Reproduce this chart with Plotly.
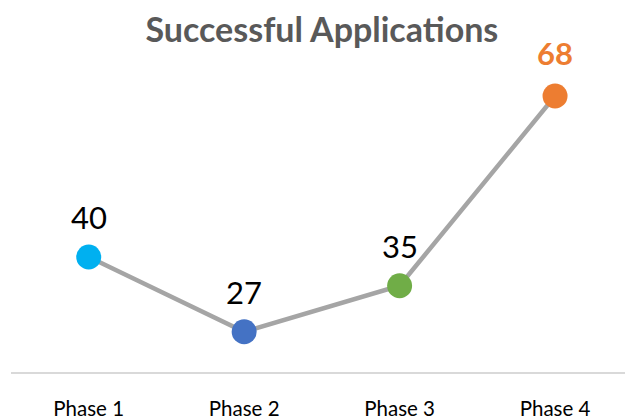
import plotly.graph_objects as go

categories = ["Phase 1", "Phase 2", "Phase 3", "Phase 4"]
values = [40, 27, 35, 68]
marker_colors = ["#00B0F0", "#4472C4", "#70AD47", "#ED7D31"]
label_colors = ["#000000", "#000000", "#000000", "#ED7D31"]
label_bold = [False, False, False, True]

FONT = "Lato"

fig = go.Figure()
fig.add_trace(go.Scatter(
    x=categories, y=values, mode="lines+markers",
    line=dict(color="#A5A5A5", width=4.5),
    marker=dict(size=25, color=marker_colors, line=dict(width=0)),
    hoverinfo="skip", showlegend=False,
))

for c, v, col, b in zip(categories, values, label_colors, label_bold):
    fig.add_annotation(
        x=c, y=v, text=f"<b>{v}</b>" if b else str(v), showarrow=False,
        yshift=43 if b else 40, font=dict(family=FONT, size=31, color=col),
    )

fig.update_layout(
    width=625, height=419,
    margin=dict(l=11, r=0, t=27, b=47, autoexpand=False),
    paper_bgcolor="white", plot_bgcolor="white",
    title=dict(text="<b>Successful Applications</b>", x=0.515, xanchor="center",
               y=0.928, yanchor="middle",
               font=dict(family=FONT, size=34, color="#595959")),
    xaxis=dict(type="category", range=[-0.5, 3.45], showgrid=False, zeroline=False,
               automargin=False,
               showline=True, linecolor="#D9D9D9", linewidth=1.5, ticks="",
               tickfont=dict(family=FONT, size=20.5, color="#000000"), ticklabelstandoff=18),
    yaxis=dict(range=[20, 80], visible=False, showgrid=False, zeroline=False),
)

fig.write_html("out.html")
